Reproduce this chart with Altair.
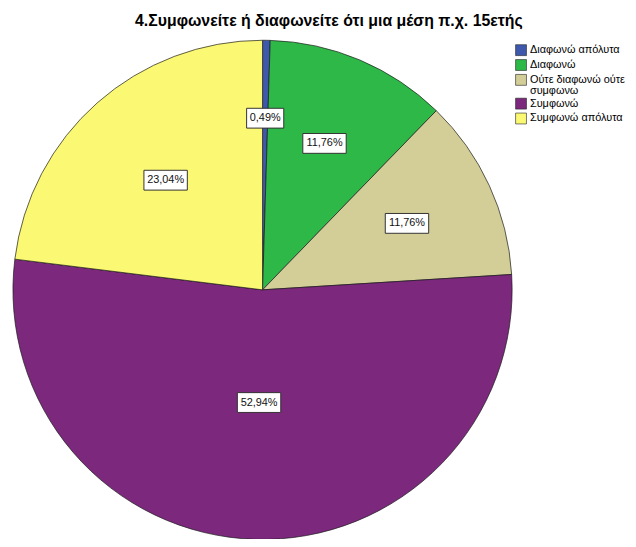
import altair as alt
import pandas as pd

categories = ["Διαφωνώ απόλυτα", "Διαφωνώ", "Ούτε διαφωνώ ούτε συμφωνω", "Συμφωνώ", "Συμφωνώ απόλυτα"]
counts = [1, 24, 24, 108, 47]
colors = ["#3E58AC", "#2EB848", "#D3CE97", "#7C287D", "#FBF873"]
title_text = "4.Συμφωνείτε ή διαφωνείτε ότι μια μέση π.χ. 15ετής"

df = pd.DataFrame({"cat": categories, "n": counts, "idx": list(range(len(categories)))})

R = 252
W = 2 * R + 2
H = 498
xdom = (W / 2) / R
ydom = (H / 2) / R
FONT = "Liberation Sans"

pie = alt.Chart(df).mark_arc(stroke="#1a1a1a", strokeWidth=0.7, outerRadius=R).encode(
    theta=alt.Theta("n:Q", stack=True),
    order=alt.Order("idx:Q"),
    color=alt.Color(
        "cat:N",
        scale=alt.Scale(domain=categories, range=colors),
        legend=alt.Legend(
            title=None, orient="none", legendX=508, legendY=1,
            symbolType="square", symbolSize=121, symbolStrokeColor="#222",
            symbolStrokeWidth=0.6, labelFont=FONT, labelFontSize=11,
            labelColor="black", labelLimit=200, padding=0, rowPadding=1,
            labelOffset=3,
            labelExpr="datum.label == 'Ούτε διαφωνώ ούτε συμφωνω' ? ['Ούτε διαφωνώ ούτε', 'συμφωνω'] : datum.label",
        ),
    ),
)

lab = alt.Chart(df).transform_joinaggregate(total="sum(n)").transform_window(
    cum="sum(n)", sort=[alt.SortField("idx")], frame=[None, 0]
).transform_calculate(
    frac="datum.n / datum.total"
).transform_calculate(
    mid="(datum.cum - datum.n / 2) / datum.total * 2 * PI"
).transform_calculate(
    lr="0.69 - 0.45 * datum.frac"
).transform_calculate(
    lx="datum.lr * sin(datum.mid)",
    ly="datum.lr * cos(datum.mid)",
    label="replace(format(datum.frac * 100, '.2f'), '.', ',') + '%'",
).transform_calculate(
    hw=f"(length(datum.label) * 6.3 + 6) / 2 / {R}",
    hh=f"10 / {R}",
).transform_calculate(
    x1="datum.lx - datum.hw", x2="datum.lx + datum.hw",
    y1="datum.ly - datum.hh", y2="datum.ly + datum.hh",
)

xs = alt.Scale(domain=[-xdom, xdom], nice=False, zero=False)
ys = alt.Scale(domain=[-ydom, ydom], nice=False, zero=False)

boxes = lab.mark_rect(fill="white", stroke="#333", strokeWidth=1).encode(
    x=alt.X("x1:Q", scale=xs, axis=None),
    x2="x2:Q",
    y=alt.Y("y1:Q", scale=ys, axis=None),
    y2="y2:Q",
)

texts = lab.mark_text(font=FONT, fontSize=11, color="#111", baseline="middle", align="center").encode(
    x=alt.X("lx:Q", scale=xs, axis=None),
    y=alt.Y("ly:Q", scale=ys, axis=None),
    text="label:N",
)

chart = alt.layer(pie, boxes, texts).properties(
    width=W,
    height=H,
    autosize="none",
    padding={"left": 4, "top": 33, "right": 116, "bottom": 0},
    view=alt.ViewBackground(stroke="transparent", strokeWidth=0),
    title=alt.TitleParams(
        text=title_text, font=FONT, fontSize=16, fontWeight="bold",
        anchor="middle", dx=67, offset=10, color="black",
    ),
).configure_view(stroke="transparent", strokeWidth=0).configure(
    background="white",
    style={"guide-label": {"lineHeight": 11}},
)

chart.save("out.html", embed_options={"renderer": "svg", "actions": False})
